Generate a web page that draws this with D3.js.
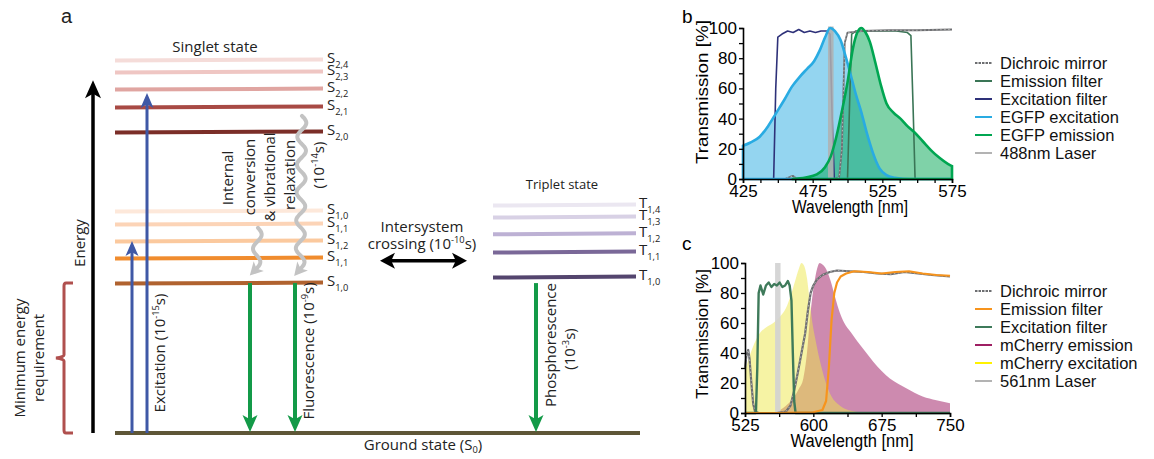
<!DOCTYPE html>
<html>
<head>
<meta charset="utf-8">
<script src="https://cdn.jsdelivr.net/npm/d3@7"></script>
<style>
  body { margin: 0; background: #fff; }
  svg { display: block; }
</style>
</head>
<body>
<script>
// ---------- panel a : Jablonski diagram data ----------
var singletSubs = ["2,4", "2,3", "2,2", "2,1", "2,0", "1,0", "1,1", "1,2", "1,1", "1,0"];
var singletEnergy = [100, 96.8, 92.2, 87.4, 80.7, 59.5, 56.0, 51.5, 46.9, 40.2];
var singletColors = ["#f5dcd9", "#efc6c3", "#e0a5a1", "#a84a44", "#7b2e28",
                     "#fde8da", "#fcd4b7", "#fbc99e", "#f08c2e", "#b0622f"];
var tripletSubs = ["1,4", "1,3", "1,2", "1,1", "1,0"];
var tripletEnergy = [61.1, 57.9, 53.4, 48.5, 41.8];
var tripletColors = ["#ebe7f1", "#d8d1e5", "#bdb1d4", "#7a6898", "#54456e"];

// ---------- panel b : EGFP ----------
var egfpExWl  = [425, 430, 437, 443, 449, 455, 460, 466, 471, 476, 480, 484, 487.5, 491, 495, 499, 502, 506, 510, 514, 518, 523, 528, 534, 540, 550, 575];
var egfpExVal = [22, 24, 28, 35, 44, 53, 61, 68, 73, 78, 85, 94, 100, 98, 92, 80, 70, 56, 44, 30, 18, 7, 2.5, 0.8, 0.2, 0, 0];
var egfpEmWl  = [460, 470, 478, 484, 488, 492, 496, 500, 504, 507, 510, 513, 516, 520, 524, 528, 533, 538, 543, 548, 554, 560, 566, 572, 575];
var egfpEmVal = [0, 1, 3, 8, 15, 28, 45, 64, 87, 97, 100, 97, 91, 77, 62, 50, 44, 40, 35, 31, 25, 19, 14, 10, 8.5];
var gfpExFilterWl  = [425, 447, 448.5, 450, 453, 457, 461, 465, 469, 473, 477, 481, 485, 487.5, 489, 490.5, 575];
var gfpExFilterVal = [0, 0, 60, 94, 96, 98, 97, 99, 97, 98, 97, 98, 98, 96, 40, 0, 0];
var gfpDichroicWl  = [425, 455, 459, 461, 463, 467, 490, 494, 496, 498, 500, 510, 530, 550, 575];
var gfpDichroicVal = [0, 0, 1.5, 2, 0.5, 0, 0, 1, 20, 90, 97, 98, 98.5, 98.5, 99];
var gfpEmFilterWl  = [425, 500, 501.5, 503, 506, 515, 525, 535, 543, 545.5, 547, 548.5, 575];
var gfpEmFilterVal = [0, 0, 50, 96, 98, 98, 98, 98, 97, 95, 50, 0, 0];
var gfpLaser = 488;
var gfpXTicks = [425, 475, 525, 575];
var gfpLegend = ["Dichroic mirror", "Emission filter", "Excitation filter", "EGFP excitation", "EGFP emission", "488nm Laser"];
var gfpLegendColors = ["#6d6e71", "#3a7556", "#2e3179", "#29abe2", "#00a651", "#b3b3b3"];

// ---------- panel c : mCherry ----------
var mchExWl  = [525, 530, 535, 541, 548, 556, 563, 570, 575, 580, 584, 587, 590, 593, 596, 599, 602, 606, 610, 615, 620, 628, 636, 645, 655];
var mchExVal = [28, 38, 46, 53, 57, 60, 64, 70, 78, 88, 96, 100, 98, 90, 75, 60, 50, 38, 28, 18, 11, 5.5, 2.5, 1, 0];
var mchEmWl  = [555, 560, 566, 572, 578, 584, 589, 593, 596, 599, 602, 605, 607, 610, 614, 619, 624, 629, 634, 641, 648, 657, 666, 675, 684, 693, 702, 711, 720, 735, 750];
var mchEmVal = [0, 1, 3, 6, 10, 16, 23, 40, 61, 78, 90, 98, 100, 99, 96, 88, 77, 67, 60, 54, 48, 41, 34, 28, 23, 19.5, 16.5, 13.5, 11, 8.5, 6.5];
var mchEmFilterWl  = [525, 560, 600, 610, 614, 617, 620, 623, 626, 630, 636, 645, 660, 675, 690, 705, 720, 735, 750];
var mchEmFilterVal = [0, 0, 0.5, 2, 8, 30, 62, 80, 87, 91, 93, 94.5, 94, 93, 94, 94.5, 93, 92, 91.5];
var mchDichroicWl  = [525, 526.5, 528.5, 530, 532, 534, 536, 540, 560, 570, 575, 579, 583, 587, 591, 594, 597, 600, 604, 610, 618, 626, 640, 655, 670, 685, 700, 715, 730, 750];
var mchDichroicVal = [30, 38, 42, 36, 20, 6, 1, 0, 0, 1, 5, 15, 27, 40, 53, 68, 80, 85, 89, 92, 94, 95, 94.5, 94, 93, 92.5, 94, 93, 92, 91];
var mchExFilterWl  = [525, 537, 538.5, 540, 542, 545, 548, 551, 554, 557, 560, 563, 566, 569, 572, 574, 576, 577.5, 579, 580.5, 750];
var mchExFilterVal = [0, 0, 30, 80, 85, 79, 85, 87, 84, 86, 85, 87, 84, 85, 88, 85, 75, 40, 8, 0, 0];
var mchLaser = 561;
var mchXTicks = [525, 600, 675, 750];
var mchLegend = ["Dichroic mirror", "Emission filter", "Excitation filter", "mCherry emission", "mCherry excitation", "561nm Laser"];
var mchLegendColors = ["#6d6e71", "#f7941d", "#3e7a5a", "#9e1f63", "#fff200", "#b3b3b3"];

var svg = d3.select("body").append("svg").attr("width", 1154).attr("height", 459);
svg.append("rect").attr("width", 1154).attr("height", 459).attr("fill", "#fff");

var aFont = "'Open Sans', 'Noto Sans', sans-serif";
var bFont = "'Liberation Sans', Arial, sans-serif";

// text with sub / superscript parts
function rich(t, parts, size, subShift) {
    var shift = 0;
    parts.forEach(function(p) {
        var target = p[1] === "sup" ? -0.42 * size : p[1] === "sub" ? (subShift || 0.38) * size : 0;
        t.append("tspan").attr("dy", target - shift).attr("font-size", p[1] ? size * 0.62 : size).text(p[0]);
        shift = target;
    });
    return t;
}

function arrowHead(g, tipX, tipY, dx, dy, len, wid, color) {
    var n = Math.sqrt(dx * dx + dy * dy); dx /= n; dy /= n;
    var bx = tipX - dx * len, by = tipY - dy * len;
    g.append("path")
        .attr("d", `M${tipX},${tipY} L${bx - dy * wid / 2},${by + dx * wid / 2} L${bx + dx * len * 0.25},${by + dy * len * 0.25} L${bx + dy * wid / 2},${by - dx * wid / 2} Z`)
        .attr("fill", color);
}

function arrow(g, x1, y1, x2, y2, color, w, len, wid) {
    var dx = x2 - x1, dy = y2 - y1, n = Math.sqrt(dx * dx + dy * dy);
    g.append("line").attr("x1", x1).attr("y1", y1)
        .attr("x2", x2 - dx / n * len * 0.7).attr("y2", y2 - dy / n * len * 0.7)
        .attr("stroke", color).attr("stroke-width", w);
    arrowHead(g, x2, y2, dx, dy, len, wid, color);
}

// ================= panel a =================
var eScale = d3.scaleLinear().domain([0, 100]).range([433, 60]);
var ga = svg.append("g").attr("font-family", aFont).attr("fill", "#222");

ga.append("text").attr("x", 61).attr("y", 23).attr("font-family", bFont).attr("font-size", 20).text("a");

// singlet levels
ga.selectAll(".slev").data(singletEnergy).enter().append("line")
    .attr("x1", 115).attr("x2", 323)
    .attr("y1", d => eScale(d) + 0.5).attr("y2", d => eScale(d) - 0.5)
    .attr("stroke", (d, i) => singletColors[i]).attr("stroke-width", 4);
singletEnergy.forEach(function(e, i) {
    var t = ga.append("text").attr("x", 327).attr("y", eScale(e) + 3);
    rich(t, [["S", null], [singletSubs[i], "sub"]], 15, 0.34);
});
ga.append("text").attr("x", 215).attr("y", 52).attr("text-anchor", "middle").attr("font-size", 15).text("Singlet state");

// triplet levels
ga.selectAll(".tlev").data(tripletEnergy).enter().append("line")
    .attr("x1", 493).attr("x2", 636)
    .attr("y1", d => eScale(d) + 0.5).attr("y2", d => eScale(d) - 0.5)
    .attr("stroke", (d, i) => tripletColors[i]).attr("stroke-width", 4);
tripletEnergy.forEach(function(e, i) {
    var t = ga.append("text").attr("x", 639).attr("y", eScale(e) + 3);
    rich(t, [["T", null], [tripletSubs[i], "sub"]], 15, 0.34);
});
ga.append("text").attr("x", 562).attr("y", 189).attr("text-anchor", "middle").attr("font-size", 13).text("Triplet state");

// ground state
ga.append("line").attr("x1", 115).attr("x2", 640).attr("y1", eScale(0)).attr("y2", eScale(0))
    .attr("stroke", "#5e5637").attr("stroke-width", 4);
rich(ga.append("text").attr("x", 423).attr("y", 450).attr("text-anchor", "middle"),
    [["Ground state (S", null], ["0", "sub"], [")", null]], 15, 0.2);

// energy axis arrow
arrow(ga, 93, eScale(0), 93, eScale(94.6), "#000", 3.5, 18, 16);
ga.append("text").attr("transform", `translate(85,${243}) rotate(-90)`).attr("text-anchor", "middle")
    .attr("font-size", 15).text("Energy");

// brace : minimum energy requirement
var bTop = eScale(singletEnergy[9]), bBot = eScale(0), bMid = (bTop + bBot) / 2;
ga.append("path")
    .attr("d", `M73,${bTop} L66,${bTop} Q64,${bTop} 64,${bTop + 3} L64,${bMid - 3} Q64,${bMid - 1} 56,${bMid} Q64,${bMid + 1} 64,${bMid + 3} L64,${bBot - 3} Q64,${bBot} 66,${bBot} L73,${bBot}`)
    .attr("fill", "none").attr("stroke", "#b0504e").attr("stroke-width", 3);
ga.append("text").attr("transform", `translate(25,${bMid}) rotate(-90)`).attr("text-anchor", "middle")
    .attr("font-size", 15).text("Minimum energy");
ga.append("text").attr("transform", `translate(44,${bMid}) rotate(-90)`).attr("text-anchor", "middle")
    .attr("font-size", 15).text("requirement");

// excitation arrows
var blue = "#3f58a6";
arrow(ga, 132, eScale(0), 132, eScale(singletEnergy[7]), blue, 3, 15, 13);
arrow(ga, 147, eScale(0), 147, eScale(singletEnergy[2]) + 4, blue, 3, 15, 13);
rich(ga.append("text").attr("transform", `translate(165,353) rotate(-90)`).attr("text-anchor", "middle"),
    [["Excitation (10", null], ["-15", "sup"], ["s)", null]], 15);

// fluorescence arrows
var green = "#139a48";
arrow(ga, 250, eScale(singletEnergy[9]), 250, eScale(0) - 1, green, 4, 17, 15);
arrow(ga, 295, eScale(singletEnergy[9]), 295, eScale(0) - 1, green, 4, 17, 15);
rich(ga.append("text").attr("transform", `translate(314,351) rotate(-90)`).attr("text-anchor", "middle"),
    [["Fluorescence (10", null], ["-9", "sup"], ["s)", null]], 15);

// phosphorescence
arrow(ga, 536, eScale(tripletEnergy[4]) + 6, 536, eScale(0) - 1, green, 4, 17, 15);
ga.append("text").attr("transform", `translate(556,345) rotate(-90)`).attr("text-anchor", "middle")
    .attr("font-size", 15).text("Phosphorescence");
rich(ga.append("text").attr("transform", `translate(575,349) rotate(-90)`).attr("text-anchor", "middle"),
    [["(10", null], ["-3", "sup"], ["s)", null]], 15);

// intersystem crossing
var isc = eScale(46.2);
ga.append("line").attr("x1", 390).attr("x2", 457).attr("y1", isc).attr("y2", isc).attr("stroke", "#000").attr("stroke-width", 3.5);
arrowHead(ga, 380, isc, -1, 0, 15, 16, "#000");
arrowHead(ga, 467, isc, 1, 0, 15, 16, "#000");
ga.append("text").attr("x", 422).attr("y", 232).attr("text-anchor", "middle").attr("font-size", 15).text("Intersystem");
rich(ga.append("text").attr("x", 422).attr("y", 249).attr("text-anchor", "middle"),
    [["crossing (10", null], ["-10", "sup"], ["s)", null]], 15);

// wavy relaxation arrows
function wavy(x0, y0, x1, y1, amp, cycles) {
    var pts = d3.range(0, 1.0001, 0.01).map(function(t) {
        return [x0 + (x1 - x0) * t + amp * Math.sin(2 * Math.PI * cycles * t), y0 + (y1 - y0) * t];
    });
    ga.append("path").attr("d", d3.line().curve(d3.curveBasis)(pts))
        .attr("fill", "none").attr("stroke", "#c3c3c3").attr("stroke-width", 4).attr("stroke-linecap", "round");
    var a = pts[pts.length - 4], b = pts[pts.length - 1];
    var dx = b[0] - a[0], dy = b[1] - a[1], n = Math.sqrt(dx * dx + dy * dy);
    arrowHead(ga, b[0] + dx / n * 9, b[1] + dy / n * 9, dx, dy, 13, 14, "#c3c3c3");
}
wavy(302, eScale(85), 300, eScale(singletEnergy[9]) - 14, 4.5, 5.5);
wavy(258, eScale(55), 256, eScale(singletEnergy[9]) - 14, 4, 1.5);

[["Internal", 233, 178], ["conversion", 255, 177], ["& vibrational", 275, 177], ["relaxation", 295, 175]].forEach(function(r) {
    ga.append("text").attr("transform", `translate(${r[1]},${r[2]}) rotate(-90)`).attr("text-anchor", "middle")
        .attr("font-size", 15).text(r[0]);
});
rich(ga.append("text").attr("transform", `translate(324,165) rotate(-90)`).attr("text-anchor", "middle"),
    [["(10", null], ["-14", "sup"], ["s)", null]], 15);

// ================= panels b, c =================
function spectrumPanel(cfg) {
    var x = d3.scaleLinear().domain(cfg.xDomain).range(cfg.xRange);
    var y = d3.scaleLinear().domain([0, 100]).range(cfg.yRange);
    var g = svg.append("g").attr("font-family", bFont);
    var area = d3.area().x(d => x(d[0])).y0(y(0)).y1(d => y(d[1])).curve(d3.curveMonotoneX);
    var line = d3.line().x(d => x(d[0])).y(d => y(d[1]));

    cfg.layers.forEach(function(L) {
        var data = d3.zip(L.wl || [], L.val || []);
        if (L.type === "fill") {
            g.append("path").datum(data).attr("d", area).attr("fill", L.color).attr("fill-opacity", L.opacity).attr("stroke", "none");
        } else if (L.type === "outline") {
            g.append("path").datum(data).attr("d", area).attr("fill", "none").attr("stroke", L.color).attr("stroke-width", L.width);
        } else if (L.type === "line") {
            g.append("path").datum(data).attr("d", line.curve(L.smooth ? d3.curveMonotoneX : d3.curveLinear))
                .attr("fill", "none").attr("stroke", L.color).attr("stroke-width", L.width).attr("stroke-linejoin", "round");
            if (L.dots) {
                g.append("path").datum(data).attr("d", line).attr("fill", "none")
                    .attr("stroke", "#b8b8b8").attr("stroke-width", 1).attr("stroke-dasharray", "1.5,2.5");
            }
        } else if (L.type === "band") {
            g.append("rect").attr("x", x(L.at - L.half)).attr("width", x(L.at + L.half) - x(L.at - L.half))
                .attr("y", y(L.top)).attr("height", y(0) - y(L.top)).attr("fill", L.color).attr("opacity", L.opacity);
        }
    });

    // axes
    var xAxis = d3.axisBottom(x).tickValues(d3.range(cfg.xDomain[0], cfg.xDomain[1] + 0.01, cfg.minorStep))
        .tickSize(4).tickPadding(2).tickFormat(d => cfg.xTicks.indexOf(d) >= 0 ? d : "");
    var yAxis = d3.axisLeft(y).tickValues(d3.range(0, 101, 10)).tickSize(4).tickPadding(2)
        .tickFormat(d => d % 20 === 0 ? d : "");
    [g.append("g").attr("transform", `translate(0,${y(0)})`).call(xAxis),
     g.append("g").attr("transform", `translate(${x(cfg.xDomain[0])},0)`).call(yAxis)].forEach(function(ax) {
        ax.select(".domain").attr("stroke", "#000").attr("stroke-width", 1.6);
        ax.selectAll(".tick line").attr("stroke", "#000").attr("stroke-width", 1.3);
        ax.selectAll("text").attr("font-size", 17).attr("fill", "#000").attr("font-family", bFont);
    });

    g.append("text").attr("x", 682).attr("y", cfg.labelY).attr("font-size", 19).text(cfg.label);
    g.append("text").attr("transform", `translate(708,${cfg.yLabelY}) rotate(-90)`).attr("text-anchor", "middle")
        .attr("font-size", 17).attr("textLength", cfg.yLabelLen).attr("lengthAdjust", "spacingAndGlyphs")
        .text("Transmission [%]");
    g.append("text").attr("x", cfg.xLabelX).attr("y", cfg.xLabelY).attr("text-anchor", "middle")
        .attr("font-size", 18).attr("textLength", cfg.xLabelLen).attr("lengthAdjust", "spacingAndGlyphs")
        .text("Wavelength [nm]");

    // legend
    var lg = g.append("g").attr("transform", `translate(975,${cfg.legendY})`);
    cfg.legend.forEach(function(name, i) {
        lg.append("line").attr("x1", 0).attr("x2", 17).attr("y1", i * 18).attr("y2", i * 18)
            .attr("stroke", cfg.legendColors[i]).attr("stroke-width", 2)
            .attr("stroke-dasharray", i === 0 ? "2.5,1" : null);
        lg.append("text").attr("x", 25).attr("y", i * 18 + 6).attr("font-size", 16.5).attr("fill", "#111").text(name);
    });
}

spectrumPanel({
    xDomain: [425, 575], xRange: [743, 952], yRange: [179, 28],
    minorStep: 12.5, xTicks: gfpXTicks,
    label: "b", labelY: 23, yLabelY: 92, yLabelLen: 144, xLabelX: 850, xLabelY: 213, xLabelLen: 116,
    legend: gfpLegend, legendColors: gfpLegendColors, legendY: 63,
    layers: [
        { type: "fill", wl: egfpExWl, val: egfpExVal, color: "#29abe2", opacity: 0.5 },
        { type: "fill", wl: egfpEmWl, val: egfpEmVal, color: "#00a651", opacity: 0.5 },
        { type: "line", wl: gfpExFilterWl, val: gfpExFilterVal, color: "#2e3179", width: 1.6 },
        { type: "line", wl: gfpEmFilterWl, val: gfpEmFilterVal, color: "#3a7556", width: 1.6 },
        { type: "line", wl: gfpDichroicWl, val: gfpDichroicVal, color: "#6d6e71", width: 1.8, dots: true },
        { type: "band", at: gfpLaser, half: 2, top: 101, color: "#b0b0b0", opacity: 0.85 },
        { type: "outline", wl: egfpExWl, val: egfpExVal, color: "#29abe2", width: 2.6 },
        { type: "outline", wl: egfpEmWl, val: egfpEmVal, color: "#00a651", width: 2.6 }
    ]
});

spectrumPanel({
    xDomain: [525, 750], xRange: [745, 950], yRange: [413, 263],
    minorStep: 37.5, xTicks: mchXTicks,
    label: "c", labelY: 250, yLabelY: 334, yLabelLen: 130, xLabelX: 852, xLabelY: 447, xLabelLen: 123,
    legend: mchLegend, legendColors: mchLegendColors, legendY: 291,
    layers: [
        { type: "fill", wl: mchEmWl, val: mchEmVal, color: "#a42a6e", opacity: 0.55 },
        { type: "fill", wl: mchExWl, val: mchExVal, color: "#eee84a", opacity: 0.5 },
        { type: "band", at: mchLaser, half: 3, top: 100, color: "#d2d2d2", opacity: 0.9 },
        { type: "line", wl: mchDichroicWl, val: mchDichroicVal, color: "#6d6e71", width: 2.2, dots: true },
        { type: "line", wl: mchExFilterWl, val: mchExFilterVal, color: "#3e7a5a", width: 2.4 },
        { type: "line", wl: mchEmFilterWl, val: mchEmFilterVal, color: "#f7941d", width: 2.2 }
    ]
});
</script>
</body>
</html>
